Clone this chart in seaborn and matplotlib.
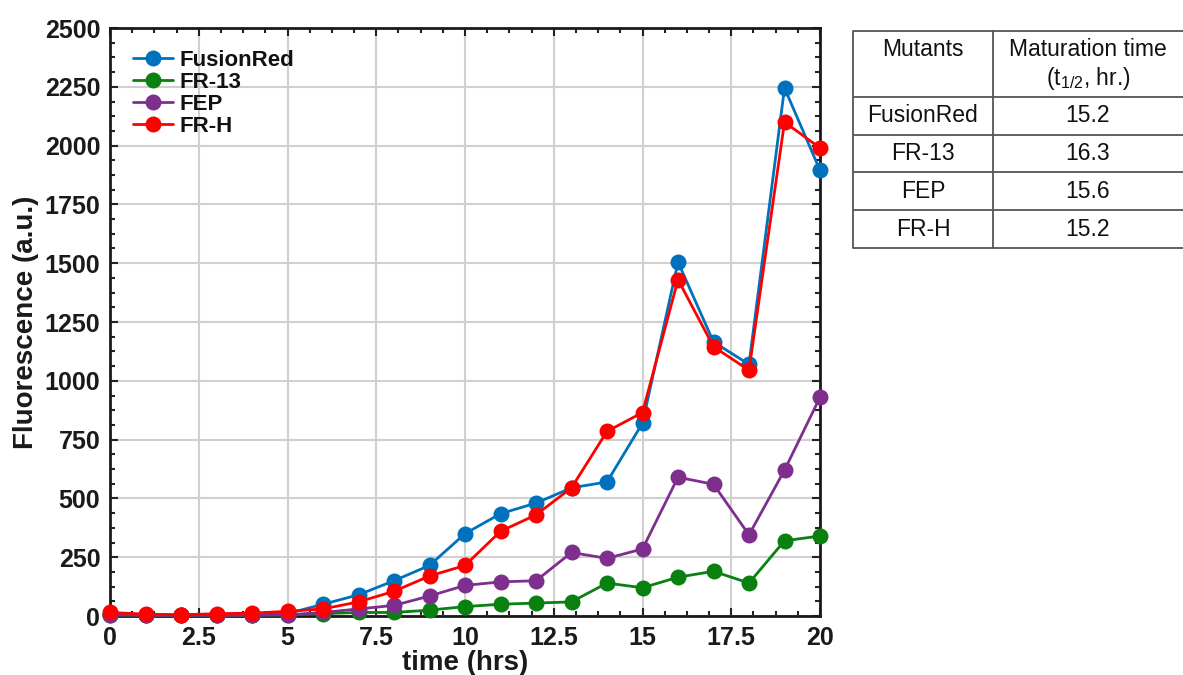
import numpy as np
import pandas as pd
import matplotlib
matplotlib.use("Agg")
import matplotlib.pyplot as plt
from matplotlib.ticker import MultipleLocator, AutoMinorLocator
import seaborn as sns

# ---------------- data ----------------
time = list(range(0, 21))
fusionred = [10, 5, 5, 5, 5, 10, 50, 90, 150, 215, 350, 435, 480, 545, 570, 820, 1505, 1165, 1070, 2245, 1895]
fr13      = [5, 3, 3, 3, 3, 5, 10, 15, 15, 25, 40, 50, 55, 60, 140, 120, 165, 190, 140, 320, 340]
fep       = [5, 3, 3, 3, 3, 5, 15, 30, 45, 85, 130, 145, 150, 270, 245, 285, 590, 560, 345, 620, 930]
frh       = [15, 8, 5, 10, 12, 20, 30, 60, 105, 170, 215, 360, 430, 545, 785, 865, 1430, 1145, 1045, 2100, 1990]

series_names = ["FusionRed", "FR-13", "FEP", "FR-H"]
series_colors = ["#0072BD", "#0A8010", "#7E2F8E", "#FF0000"]

table_mutants = ["FusionRed", "FR-13", "FEP", "FR-H"]
table_times = ["15.2", "16.3", "15.6", "15.2"]

x_ticks = [0, 2.5, 5, 7.5, 10, 12.5, 15, 17.5, 20]
x_tick_labels = ["0", "2.5", "5", "7.5", "10", "12.5", "15", "17.5", "20"]
y_ticks = [0, 250, 500, 750, 1000, 1250, 1500, 1750, 2000, 2250, 2500]

df = pd.DataFrame({
    "time": time * 4,
    "fluor": fusionred + fr13 + fep + frh,
    "mutant": sum([[n] * len(time) for n in series_names], []),
})

# ---------------- style ----------------
sns.set_style("ticks")
plt.rcParams["font.family"] = ["Liberation Sans", "DejaVu Sans"]
plt.rcParams["mathtext.fontset"] = "custom"
plt.rcParams["mathtext.rm"] = "Liberation Sans"
plt.rcParams["mathtext.it"] = "Liberation Sans:italic"
plt.rcParams["mathtext.bf"] = "Liberation Sans:bold"

fig = plt.figure(figsize=(11.83, 6.75), dpi=100)
ax = fig.add_axes([110 / 1183, 59 / 675, 710 / 1183, 588 / 675])

sns.lineplot(data=df, x="time", y="fluor", hue="mutant", hue_order=series_names,
             palette=dict(zip(series_names, series_colors)),
             marker="o", markersize=11.5, markeredgewidth=0, linewidth=2,
             ax=ax, legend=True)
for ln in ax.get_lines():
    ln.set_clip_on(False)
    ln.set_zorder(3)

ax.set_xlim(0, 20)
ax.set_ylim(0, 2500)
ax.set_xticks(x_ticks)
ax.set_xticklabels(x_tick_labels)
ax.set_yticks(y_ticks)
ax.xaxis.set_minor_locator(AutoMinorLocator(4))
ax.yaxis.set_minor_locator(AutoMinorLocator(4))
ax.tick_params(which="both", direction="in", top=True, right=True, width=1.5, color="#222222")
ax.tick_params(which="major", length=6, labelsize=18, pad=7)
ax.tick_params(which="minor", length=3.5)
for lab in ax.get_xticklabels() + ax.get_yticklabels():
    lab.set_fontweight("bold")
    lab.set_color("#1a1a1a")
for sp in ax.spines.values():
    sp.set_visible(True)
    sp.set_linewidth(2)
    sp.set_color("#1a1a1a")
    sp.set_zorder(2.5)
ax.grid(True, which="major", color="#d0d0d0", linewidth=1.5)
ax.set_axisbelow(True)

ax.set_xlabel("time (hrs)", fontsize=20, fontweight="bold", color="#1a1a1a", labelpad=0)
ax.set_ylabel("Fluorescence (a.u.)", fontsize=20, fontweight="bold", color="#1a1a1a", labelpad=4)

leg = ax.legend(loc="upper left", frameon=False, fontsize=16, labelspacing=0.05,
                handlelength=1.8, handletextpad=0.3, borderaxespad=0.0,
                bbox_to_anchor=(0.02, 0.978))
for t in leg.get_texts():
    t.set_fontweight("bold")
    t.set_color("#111111")

# ---------------- table ----------------
tax = fig.add_axes([0, 0, 1, 1])
tax.set_xlim(0, 1183)
tax.set_ylim(675, 0)
tax.axis("off")
lc = "#555555"
lw = 1.3
x_left, x_mid, x_right = 853, 993, 1183
row_lines = [31, 97, 135, 172, 210, 248]
for yy in row_lines:
    tax.plot([x_left, x_right], [yy, yy], color=lc, lw=lw, solid_capstyle="butt")
tax.plot([x_left, x_left], [row_lines[0], row_lines[-1]], color=lc, lw=lw)
tax.plot([x_mid, x_mid], [row_lines[0], row_lines[-1]], color=lc, lw=lw)

fs = 16.5
tax.text(923, 49, "Mutants", ha="center", va="center", fontsize=fs, color="#111111")
tax.text(1088, 49, "Maturation time", ha="center", va="center", fontsize=fs, color="#111111")
tax.text(1088, 79, r"(t$_{\mathrm{1/2}}$, hr.)", ha="center", va="center", fontsize=fs, color="#111111")
row_centers = [116, 154, 191, 229]
for name, val, yc in zip(table_mutants, table_times, row_centers):
    tax.text(923, yc, name, ha="center", va="center", fontsize=fs, color="#111111")
    tax.text(1088, yc, val, ha="center", va="center", fontsize=fs, color="#111111")

fig.savefig("out.png", dpi=100)
